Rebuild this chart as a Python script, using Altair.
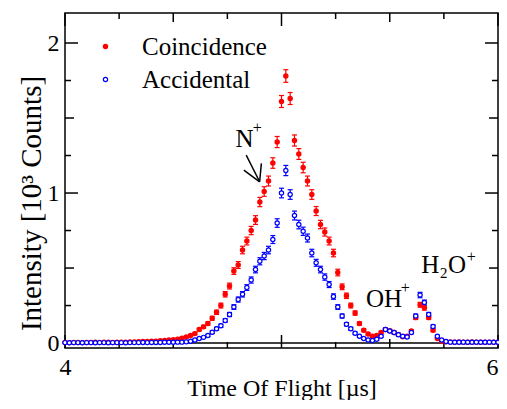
import altair as alt
import pandas as pd

# ---------------- data ----------------
tof = [round(4 + 0.02 * i, 2) for i in range(101)]  # bin centres, µs

coincidence = [
    0.004, 0.003, 0.004, 0.004, 0.003, 0.004, 0.004, 0.005, 0.004, 0.005,  # 4.00-4.18
    0.005, 0.004, 0.006, 0.005, 0.006, 0.007, 0.008, 0.009, 0.010, 0.011,  # 4.20-4.38
    0.012, 0.013, 0.015, 0.018, 0.020, 0.022, 0.025, 0.032, 0.040, 0.050,  # 4.40-4.58
    0.063, 0.090, 0.108, 0.130, 0.165, 0.205, 0.250, 0.325, 0.380, 0.480,  # 4.60-4.78
    0.520, 0.620, 0.680, 0.750, 0.820, 0.940, 1.010, 1.080, 1.200, 1.340,  # 4.80-4.98
    1.610, 1.780, 1.630, 1.350, 1.260, 1.170, 1.080, 0.990, 0.880, 0.790,  # 5.00-5.18
    0.740, 0.680, 0.600, 0.470, 0.375, 0.315, 0.250, 0.200, 0.130, 0.085,  # 5.20-5.38
    0.060, 0.045, 0.050, 0.070, 0.090, 0.082, 0.070, 0.058, 0.042, 0.045,  # 5.40-5.58
    0.080, 0.170, 0.255, 0.235, 0.170, 0.085, 0.030, 0.012, 0.008, 0.007,  # 5.60-5.78
    0.006, 0.007, 0.006, 0.005, 0.007, 0.006, 0.005, 0.006, 0.005, 0.006,  # 5.80-5.98
    0.005,
]
coincidence_err = [
    0.002, 0.002, 0.002, 0.002, 0.002, 0.002, 0.002, 0.002, 0.002, 0.002,
    0.002, 0.002, 0.002, 0.002, 0.002, 0.003, 0.003, 0.003, 0.003, 0.003,
    0.0035, 0.004, 0.004, 0.004, 0.0045, 0.005, 0.005, 0.006, 0.006, 0.007,
    0.008, 0.0095, 0.0105, 0.0115, 0.013, 0.0145, 0.016, 0.018, 0.0195, 0.022,
    0.023, 0.025, 0.026, 0.0275, 0.029, 0.031, 0.032, 0.033, 0.035, 0.037,
    0.040, 0.042, 0.040, 0.037, 0.036, 0.035, 0.033, 0.032, 0.030, 0.028,
    0.027, 0.026, 0.025, 0.022, 0.019, 0.018, 0.016, 0.014, 0.0115, 0.009,
    0.008, 0.007, 0.007, 0.008, 0.0095, 0.009, 0.008, 0.0075, 0.0065, 0.007,
    0.009, 0.013, 0.016, 0.0155, 0.013, 0.009, 0.0055, 0.0035, 0.003, 0.003,
    0.003, 0.003, 0.003, 0.003, 0.003, 0.003, 0.003, 0.003, 0.003, 0.003,
    0.003,
]
accidental = [
    0.003, 0.002, 0.003, 0.003, 0.002, 0.003, 0.003, 0.002, 0.003, 0.003,
    0.002, 0.003, 0.003, 0.003, 0.002, 0.003, 0.003, 0.003, 0.004, 0.003,
    0.004, 0.004, 0.004, 0.005, 0.005, 0.005, 0.006, 0.006, 0.008, 0.012,
    0.020, 0.030, 0.038, 0.050, 0.072, 0.095, 0.115, 0.150, 0.190, 0.240,
    0.290, 0.325, 0.370, 0.420, 0.490, 0.545, 0.580, 0.620, 0.690, 0.800,
    1.000, 1.150, 0.990, 0.850, 0.790, 0.745, 0.700, 0.600, 0.535, 0.490,
    0.440, 0.390, 0.310, 0.240, 0.180, 0.125, 0.095, 0.065, 0.045, 0.030,
    0.020, 0.017, 0.025, 0.045, 0.090, 0.080, 0.070, 0.055, 0.045, 0.040,
    0.070, 0.180, 0.320, 0.270, 0.190, 0.110, 0.045, 0.020, 0.010, 0.006,
    0.005, 0.005, 0.006, 0.005, 0.005, 0.006, 0.005, 0.005, 0.006, 0.005,
    0.005,
]
accidental_err = [
    0.002, 0.002, 0.002, 0.002, 0.002, 0.002, 0.002, 0.002, 0.002, 0.002,
    0.002, 0.002, 0.002, 0.002, 0.002, 0.002, 0.002, 0.002, 0.002, 0.002,
    0.002, 0.002, 0.002, 0.002, 0.002, 0.002, 0.0025, 0.0025, 0.003, 0.0035,
    0.0045, 0.0055, 0.006, 0.007, 0.0085, 0.010, 0.011, 0.012, 0.014, 0.0155,
    0.017, 0.018, 0.019, 0.0205, 0.022, 0.0235, 0.024, 0.025, 0.0265, 0.0285,
    0.032, 0.034, 0.032, 0.0295, 0.0285, 0.0275, 0.0265, 0.025, 0.023, 0.022,
    0.021, 0.020, 0.018, 0.0155, 0.0135, 0.011, 0.010, 0.008, 0.007, 0.0055,
    0.0045, 0.004, 0.005, 0.007, 0.0095, 0.009, 0.0085, 0.0075, 0.007, 0.0065,
    0.0085, 0.0135, 0.018, 0.0165, 0.014, 0.0105, 0.007, 0.0045, 0.003, 0.002,
    0.002, 0.002, 0.002, 0.002, 0.002, 0.002, 0.002, 0.002, 0.002, 0.002,
    0.002,
]
series_names = ["Coincidence", "Accidental"]
series_colors = ["#ff0000", "#0000ff"]
x_labels = [4, 5, 6]
y_labels = [0, 1, 2]
x_ticks_major = [4, 5, 6]
x_ticks_half = [4.5, 5.5]
x_ticks_quarter = [4.25, 4.75, 5.25, 5.75]
y_ticks_major = [0, 1, 2]
y_ticks_half = [0.5, 1.5]
y_ticks_quarter = [0.25, 0.75, 1.25, 1.75]

# ---------------- chart ----------------
W, H = 433, 335
FONT = "Liberation Serif"

rows = []
for name, vals, errs in [(series_names[0], coincidence, coincidence_err),
                         (series_names[1], accidental, accidental_err)]:
    for t, v, e in zip(tof, vals, errs):
        rows.append({"series": name, "t": t, "v": v, "lo": v - e, "hi": v + e})
df = pd.DataFrame(rows)

xs = alt.Scale(domain=[4, 6], nice=False, zero=False)
ys = alt.Scale(domain=[-0.033, 2.2], nice=False, zero=False)
cs = alt.Scale(domain=series_names, range=series_colors)
fs = alt.Scale(domain=series_names, range=["#ff0000", "#ffffff"])

x_axis = alt.Axis(values=x_labels, format="d", ticks=False, domain=False, grid=False,
                  labelFont=FONT, labelFontSize=24, labelPadding=7, labelColor="black",
                  labelFlush=False,
                  labelAlign={"condition": {"test": "datum.value >= 6", "value": "right"},
                              "value": "center"},
                  title="Time Of Flight [µs]", titleFont=FONT, titleFontSize=24,
                  titleFontWeight="normal", titleColor="black", titleY=47,
                  titleBaseline="alphabetic")
y_axis = alt.Axis(values=y_labels, format="d", ticks=False, domain=False, grid=False,
                  labelFont=FONT, labelFontSize=24, labelPadding=6, labelColor="black",
                  title="Intensity [10³ Counts]", titleFont=FONT, titleFontSize=29,
                  titleFontWeight="normal", titleColor="black", titleX=-25, titleY=190,
                  titleAngle=270, titleAlign="center", titleBaseline="alphabetic")

legend = alt.Legend(title=None, orient="none", legendX=28, legendY=21,
                    labelFont=FONT, labelFontSize=25, labelColor="black",
                    symbolSize=18, symbolStrokeWidth=1.2, symbolType="circle",
                    labelOffset=24, rowPadding=7, padding=0)

one = pd.DataFrame({"a": [0]})
layers = []

points = alt.Chart(df).mark_point(filled=False, size=18, strokeWidth=1.2, opacity=1).encode(
    x=alt.X("t:Q", scale=xs, axis=x_axis),
    y=alt.Y("v:Q", scale=ys, axis=y_axis),
    color=alt.Color("series:N", scale=cs, legend=legend),
    fill=alt.Fill("series:N", scale=fs, legend=legend))

# zero line
layers.append(alt.Chart(one).mark_rule(color="black", strokeWidth=1.5).encode(
    y=alt.YDatum(0, scale=ys)))


def tick_layer(vals, side, length):
    c = alt.Chart(pd.DataFrame({"p": vals})).mark_rule(color="black", strokeWidth=1.5)
    if side == "bottom":
        return c.encode(x=alt.X("p:Q", scale=xs), y=alt.value(H), y2=alt.value(H - length))
    if side == "top":
        return c.encode(x=alt.X("p:Q", scale=xs), y=alt.value(0), y2=alt.value(length))
    if side == "left":
        return c.encode(y=alt.Y("p:Q", scale=ys), x=alt.value(0), x2=alt.value(length))
    return c.encode(y=alt.Y("p:Q", scale=ys), x=alt.value(W), x2=alt.value(W - length))


for side in ["bottom", "top"]:
    layers.append(tick_layer(x_ticks_major, side, 13))
    layers.append(tick_layer(x_ticks_half, side, 9))
    layers.append(tick_layer(x_ticks_quarter, side, 6))
for side in ["left", "right"]:
    layers.append(tick_layer(y_ticks_major, side, 13))
    layers.append(tick_layer(y_ticks_half, side, 9))
    layers.append(tick_layer(y_ticks_quarter, side, 6))

# error bars, one series at a time with its own colour
for name, col in zip(series_names, series_colors):
    sub = df[df.series == name]
    layers.append(alt.Chart(sub).mark_rule(strokeWidth=1.2, color=col).encode(
        x=alt.X("t:Q", scale=xs), y=alt.Y("lo:Q", scale=ys), y2="hi:Q"))
    for fld in ["lo", "hi"]:
        layers.append(alt.Chart(sub).mark_tick(orient="horizontal", size=5, thickness=1.2,
                                               opacity=1, color=col).encode(
            x=alt.X("t:Q", scale=xs), y=alt.Y(f"{fld}:Q", scale=ys)))

layers.append(points)


def label(text, t, v, size=25, align="left", baseline="alphabetic"):
    return alt.Chart(one).mark_text(text=text, font=FONT, fontSize=size, color="black",
                                    align=align, baseline=baseline).encode(
        x=alt.XDatum(t, scale=xs), y=alt.YDatum(v, scale=ys))


layers.append(label("N", 4.788, 1.306))
layers.append(label("+", 4.888, 1.433, size=16, align="center", baseline="middle"))
layers.append(label("OH", 5.390, 0.240))
layers.append(label("+", 5.572, 0.366, size=16, align="center", baseline="middle"))
layers.append(label("H₂O", 5.645, 0.466))
layers.append(label("+", 5.877, 0.573, size=16, align="center", baseline="middle"))


def seg(t1, v1, t2, v2):
    return alt.Chart(one).mark_rule(color="black", strokeWidth=1.5).encode(
        x=alt.XDatum(t1, scale=xs), y=alt.YDatum(v1, scale=ys),
        x2=alt.X2Datum(t2), y2=alt.Y2Datum(v2))


layers.append(seg(4.837, 1.253, 4.899, 1.075))
layers.append(seg(4.826, 1.153, 4.899, 1.075))
layers.append(seg(4.907, 1.198, 4.899, 1.075))

chart = alt.layer(*layers).properties(
    width=W, height=H,
    autosize=alt.AutoSizeParams(type="none"),
    padding={"left": 57, "top": 5, "right": 1, "bottom": 52},
).configure_view(stroke="black", strokeWidth=1.5)

chart.save("out.html", embed_options={"renderer": "svg", "actions": False})
